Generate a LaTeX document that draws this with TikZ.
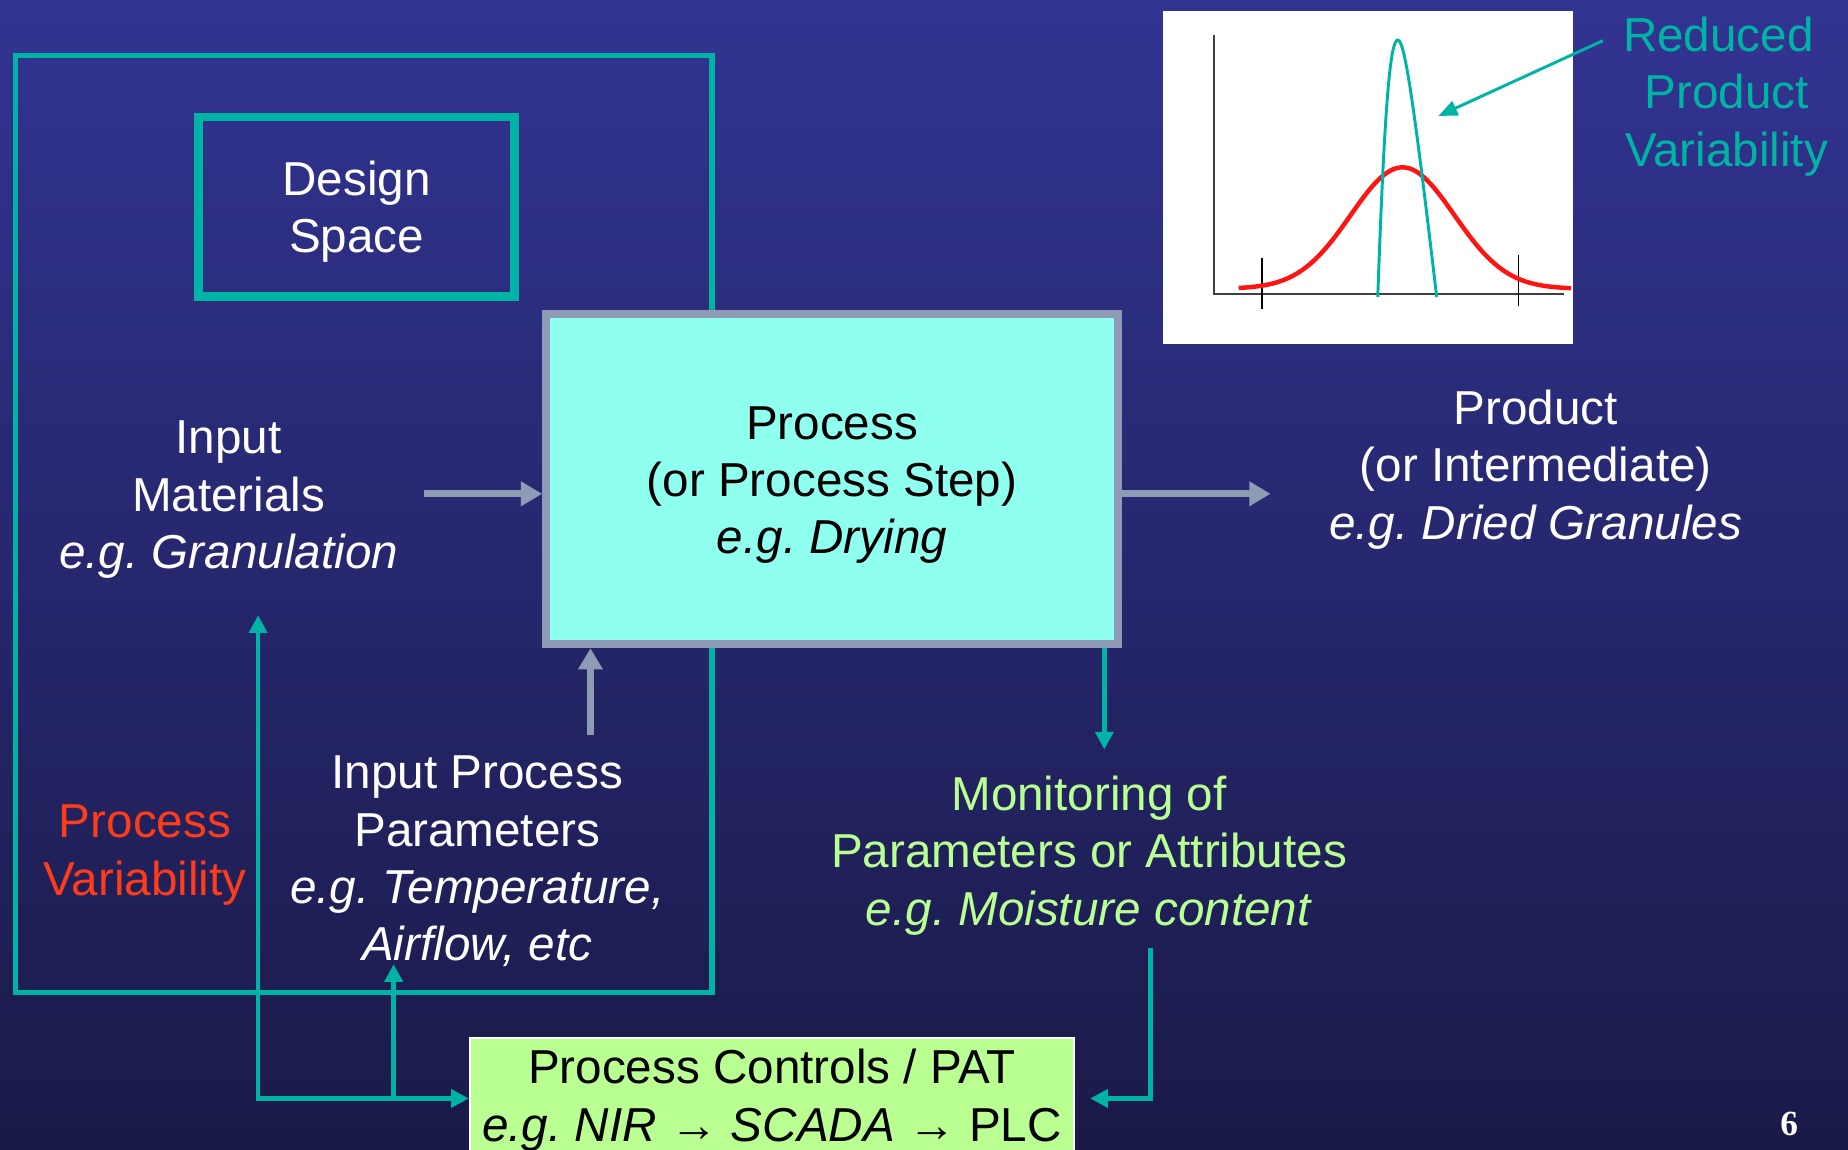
\documentclass[tikz,border=0pt]{standalone}
\usepackage{fontspec}
\setmainfont{Liberation Sans}
\newfontfamily\numfont{Liberation Serif}
\usetikzlibrary{arrows.meta}
\definecolor{bgtop}{RGB}{50,52,146}
\definecolor{bgbot}{RGB}{26,26,72}
\definecolor{tealc}{RGB}{0,180,165}
\definecolor{boxgray}{RGB}{142,155,180}
\definecolor{cyanfill}{RGB}{143,255,240}
\definecolor{lgreen}{RGB}{185,255,145}
\definecolor{redtxt}{RGB}{255,60,25}
\definecolor{curvered}{RGB}{255,20,20}
\frenchspacing
\begin{document}
\begin{tikzpicture}[x=1pt,y=-1pt,
  txt/.style={align=center,font=\fontsize{40.4}{48.7}\selectfont,inner sep=0pt},
  tealarrow/.style={draw=tealc,line width=4pt,-{Triangle[length=15pt,width=15pt]}},
  tealboth/.style={draw=tealc,line width=4pt,{Triangle[length=15pt,width=15pt]}-{Triangle[length=15pt,width=15pt]}},
  grayarrow/.style={draw=boxgray,line width=6pt,-{Triangle[length=18pt,width=20pt]}},
]
% background
\shade[top color=bgtop,bottom color=bgbot] (0,0) rectangle (1568,975);
\useasboundingbox (0,0) rectangle (1568,975);

% outer frame
\draw[tealc,line width=4.5pt] (13,47) rectangle (604,842);

% design space
\node[txt,text=white,draw=tealc,line width=7pt,minimum width=268pt,minimum height=152pt] (ds) at (302.5,175.5) {\rule{0pt}{38pt}Design\\Space};

% chart
\fill[white] (987,9) rectangle (1335,292);
\draw[line width=2pt,black!75] (1030,30) -- (1030,249.5) -- (1327,249.5);
\draw[line width=1.5pt,black] (1071,219) -- (1071,262);
\draw[line width=1.5pt,black] (1288.5,216) -- (1288.5,260);
\draw[curvered,line width=3.8pt] plot[domain=1051:1333,samples=100] (\x,{245-103*exp(-0.5*((\x-1190)/44)^2)});
\draw[tealc,line width=2.5pt] (1169,252) .. controls (1175,80) and (1180,34) .. (1186,34) .. controls (1192,34) and (1200,90) .. (1219,252);
\coordinate (rpA) at (1360,34.5);
\coordinate (rpB) at (1220.5,98.4);
\draw[tealc,line width=2.5pt,-{Triangle[length=16pt,width=13pt]}] (rpA) -- (rpB);
\node[txt,text=tealc] (rpv) at (1465,82) {Reduced\hspace*{14pt}\\Product\\Variability};

% process box
\node[txt,draw=boxgray,fill=cyanfill,line width=7pt,minimum width=485pt,minimum height=280pt,text=black] (proc) at (706,406.5) {\rule{0pt}{38pt}Process\\(or Process Step)\\\textit{e.g. Drying}};

% texts
\node[txt,text=white] (inmat) at (194,424) {Input\\Materials\\\textit{e.g. Granulation}};
\node[txt,text=white] (prod) at (1303,398.5) {Product\\(or Intermediate)\\\textit{e.g. Dried Granules}};
\node[txt,text=white] (ipp) at (405,731) {Input Process\\Parameters\\\textit{e.g. Temperature,}\\\textit{Airflow, etc}};
\node[txt,text=redtxt] (pv) at (123,725.5) {Process\\Variability};
\node[txt,text=lgreen] (mon) at (924,726) {Monitoring of\\Parameters or Attributes\\\textit{e.g. Moisture content}};

% controls box
\node[txt,draw=white,line width=1.5pt,fill=lgreen,text=black,minimum width=513pt,minimum height=105pt] (ctrl) at (655,933.5) {Process Controls / PAT\\\textit{e.g. NIR} → \textit{SCADA} → PLC};

% gray arrows
\coordinate (imA) at (360,419);
\draw[grayarrow] (imA) -- (imA -| proc.west);
\coordinate (prA) at (1078,419);
\draw[grayarrow] (prA -| proc.east) -- (prA);
\coordinate (ippA) at (501,624);
\draw[grayarrow] (ippA) -- (ippA |- proc.south);

% teal connectors
\coordinate (fbL) at (219,932);
\coordinate (fbM) at (334,932);
\coordinate (imT) at (219,522);
\coordinate (ippT) at (334,818);
\draw[tealboth] (imT) -- (fbL) -- (fbL -| ctrl.west);
\draw[tealarrow] (fbM) -- (ippT);
\coordinate (monT) at (937,636);
\draw[tealarrow] (monT |- proc.south) -- (monT);
\coordinate (monB) at (976,804);
\coordinate (ctrlR) at (925,932);
\draw[tealarrow] (monB) -- (monB |- ctrlR) -- (ctrlR);

% page number
\node[font=\numfont\bfseries\fontsize{30}{30}\selectfont,text=white,inner sep=0pt] (pg) at (1518,954) {6};
\end{tikzpicture}
\end{document}
